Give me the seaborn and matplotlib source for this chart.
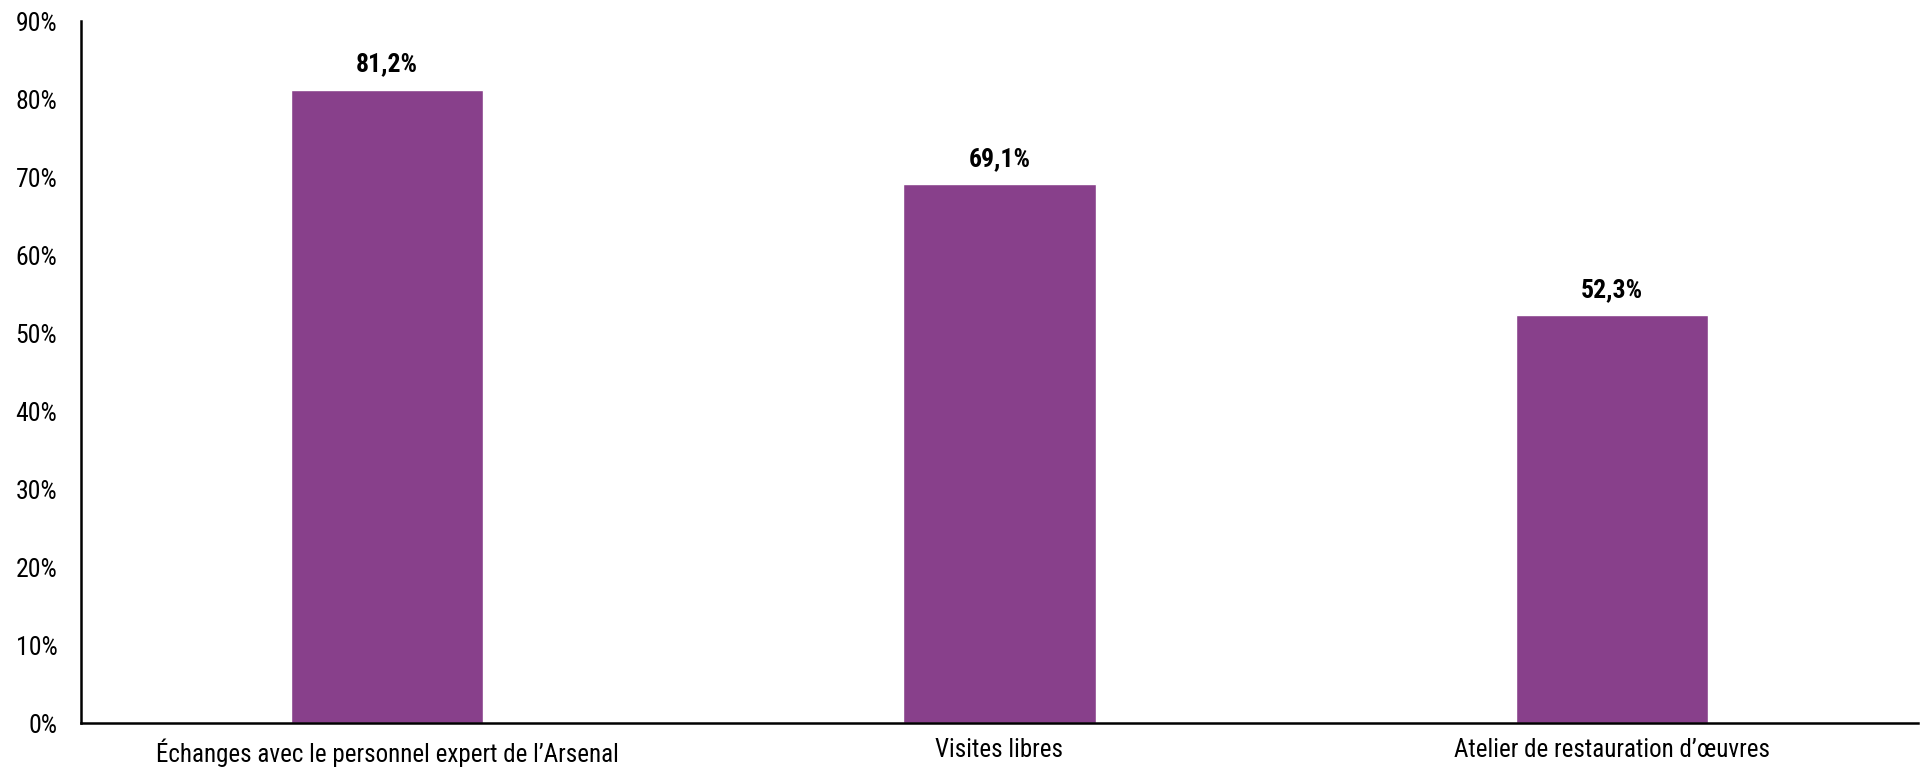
import matplotlib
matplotlib.use("Agg")
import matplotlib.pyplot as plt
import seaborn as sns
import pandas as pd
from matplotlib.ticker import FuncFormatter

# data
categories = ["Échanges avec le personnel expert de l\u2019Arsenal",
              "Visites libres",
              "Atelier de restauration d\u2019\u0153uvres"]
values = [81.2, 69.1, 52.3]
labels = ["81,2%", "69,1%", "52,3%"]

df = pd.DataFrame({"cat": categories, "val": values})

sns.set_style("white")
plt.rcParams['font.family'] = ['Roboto Condensed', 'Liberation Sans', 'DejaVu Sans']
plt.rcParams['text.color'] = 'black'
plt.rcParams['xtick.color'] = 'black'
plt.rcParams['ytick.color'] = 'black'

fig = plt.figure(figsize=(19.22, 7.7), dpi=100)
ax = fig.add_axes([0.0421, 0.061, 0.9558, 0.9117])

sns.barplot(data=df, x="cat", y="val", color="#88408B", saturation=1,
            width=0.314, ax=ax)

for i, (v, t) in enumerate(zip(values, labels)):
    ax.annotate(t, (i, v), xytext=(0, 18), textcoords="offset points",
                ha="center", va="center", fontsize=18.5, fontweight="bold",
                color="black")

ax.set_ylim(0, 90)
ax.set_xlim(-0.5, 2.5)
ax.set_yticks(range(0, 91, 10))
ax.yaxis.set_major_formatter(FuncFormatter(lambda y, p: f"{int(y)}%"))
ax.set_xlabel("")
ax.set_ylabel("")
ax.tick_params(axis="y", length=0, pad=17, labelsize=18.5, labelcolor="black")
ax.tick_params(axis="x", length=0, pad=11, labelsize=18, labelcolor="black")

sns.despine(ax=ax)
for s in ["left", "bottom"]:
    ax.spines[s].set_color("black")
    ax.spines[s].set_linewidth(1.8)

fig.savefig("out.png", dpi=100)
